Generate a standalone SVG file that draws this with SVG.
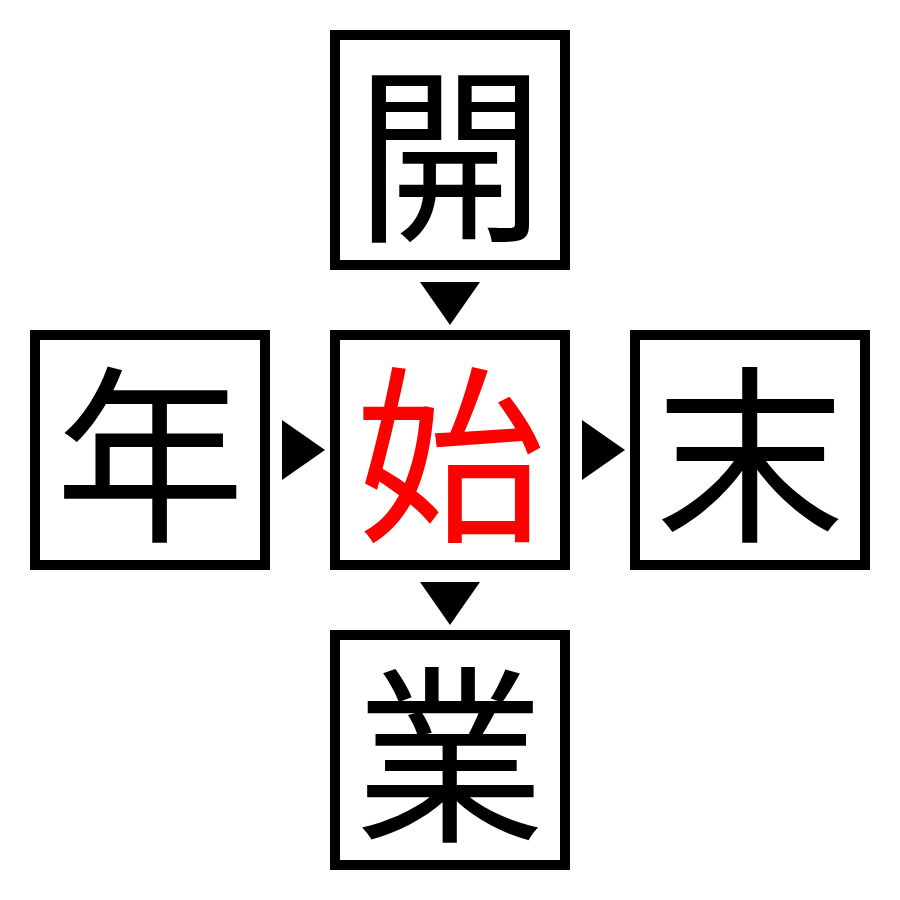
<svg xmlns="http://www.w3.org/2000/svg" width="900" height="900" viewBox="0 0 900 900">
<style>
.box{fill:#fff;stroke:#000;stroke-width:10}
.ch{font-family:"Noto Sans CJK JP","Noto Sans CJK SC",sans-serif;font-size:190px;text-anchor:middle;dominant-baseline:central;fill:#000}
.red{fill:#ff0000}
.arr{fill:#000}
</style>
<rect width="900" height="900" fill="#fff"/>
<g id="node-kai"><rect class="box" x="335" y="35" width="230" height="230"/><text class="ch" x="450" y="144">開</text></g>
<g id="node-nen"><rect class="box" x="35" y="335" width="230" height="230"/><text class="ch" x="150" y="444">年</text></g>
<g id="node-shi"><rect class="box" x="335" y="335" width="230" height="230"/><text class="ch red" x="450" y="444">始</text></g>
<g id="node-matsu"><rect class="box" x="635" y="335" width="230" height="230"/><text class="ch" x="750" y="444">末</text></g>
<g id="node-gyou"><rect class="box" x="335" y="635" width="230" height="230"/><text class="ch" x="450" y="744">業</text></g>
<g id="connectors">
<polygon class="arr" points="420,282 480,282 450,325"/>
<polygon class="arr" points="282,420 325,450 282,480"/>
<polygon class="arr" points="582,420 625,450 582,480"/>
<polygon class="arr" points="420,582 480,582 450,625"/>
</g>
</svg>
